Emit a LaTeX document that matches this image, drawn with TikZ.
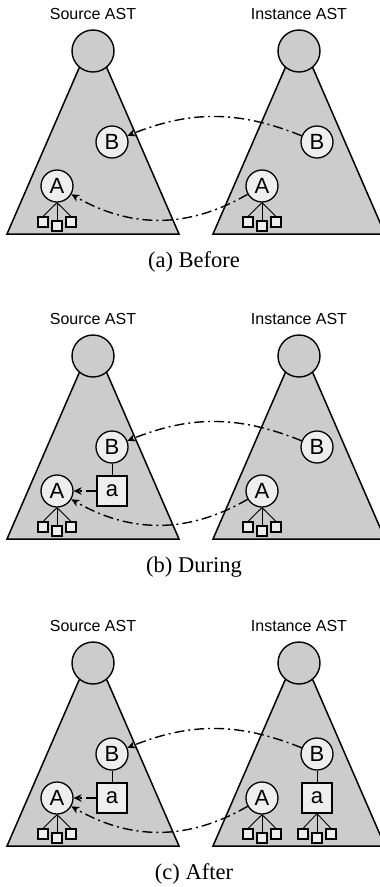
\documentclass[tikz,border=0pt]{standalone}
\usepackage{fontspec}
\setmainfont{Liberation Serif}
\setsansfont{Liberation Sans}
\usetikzlibrary{arrows.meta}

\definecolor{treegray}{HTML}{CCCCCC}
\definecolor{nodegray}{HTML}{EEEEEE}

\tikzset{
  astshape/.style={fill=treegray, draw=black, line width=1.5pt},
  rootnode/.style={circle, draw, line width=1.4pt, fill=treegray, minimum size=42pt, inner sep=0pt},
  astnode/.style={circle, draw, line width=1.3pt, fill=nodegray, minimum size=32pt, inner sep=0pt,
    font=\sffamily\fontsize{22}{22}\selectfont},
  valbox/.style={rectangle, draw, line width=1.3pt, fill=nodegray, minimum size=30pt, inner sep=0pt,
    font=\sffamily\fontsize{22}{22}\selectfont},
  leaf/.style={rectangle, draw, line width=1.1pt, fill=nodegray, minimum size=10pt, inner sep=0pt},
  childline/.style={line width=0.9pt},
  astlabel/.style={font=\sffamily\fontsize{16}{16}\selectfont},
  subcap/.style={font=\fontsize{22.5}{22.5}\selectfont, anchor=base},
  mapping/.style={line width=1.4pt, dash pattern=on 10pt off 4pt on 2pt off 4pt,
    -{Stealth[length=8pt,width=7.5pt,inset=2.5pt]}}
}

% three leaves under a node
\newcommand{\addleaves}[1]{%
  \foreach \dx/\dy [count=\k] in {-14/36,0/40,14/36}
    {\node[leaf] (#1-\k) at ([shift={(\dx,-\dy)}]#1) {};
     \draw[childline] (#1.south) -- (#1-\k.north);}}

\begin{document}
\begin{tikzpicture}[x=1pt, y=1pt]
    \useasboundingbox (0,0) rectangle (380,-887);

    % (a) Before
    \filldraw[astshape] (93,-36) -- (7,-234) -- (179,-234) -- cycle;
    \filldraw[astshape] (299,-36) -- (213,-234) -- (385,-234) -- cycle;
    \node[rootnode] (srcRoot1) at (93,-51) {};
    \node[rootnode] (insRoot1) at (299,-51) {};
    \node[astlabel] (srcLab1) at (93,-14) {Source AST};
    \node[astlabel] (insLab1) at (299,-14) {Instance AST};

    \node[astnode] (srcB1) at (112,-142) {B};
    \node[astnode] (srcA1) at (57,-186) {A};
    \node[astnode] (insB1) at (317,-142) {B};
    \node[astnode] (insA1) at (262,-186) {A};
    \addleaves{srcA1}
    \addleaves{insA1}

    \draw[mapping] (insB1) to[bend right=22] (srcB1);
    \draw[mapping] (insA1) to[bend left=30] (srcA1);
    \node[subcap] (capA) at (194,-267) {(a) Before};

    % (b) During
    \begin{scope}[yshift=-305pt]
    \filldraw[astshape] (93,-36) -- (7,-234) -- (179,-234) -- cycle;
    \filldraw[astshape] (299,-36) -- (213,-234) -- (385,-234) -- cycle;
    \node[rootnode] (srcRoot2) at (93,-51) {};
    \node[rootnode] (insRoot2) at (299,-51) {};
    \node[astlabel] (srcLab2) at (93,-14) {Source AST};
    \node[astlabel] (insLab2) at (299,-14) {Instance AST};

    \node[astnode] (srcB2) at (112,-142) {B};
    \node[valbox] (srcV2) at (112,-186) {a};
    \node[astnode] (srcA2) at (57,-186) {A};
    \node[astnode] (insB2) at (317,-142) {B};
    \node[astnode] (insA2) at (262,-186) {A};
    \draw[childline] (srcB2) -- (srcV2);
    \addleaves{srcA2}
    \addleaves{insA2}

    \draw[mapping] (insB2) to[bend right=22] (srcB2);
    \draw[mapping] (insA2) to[bend left=30] (srcA2);
    \draw[mapping] (srcV2) -- (srcA2);
    \node[subcap] (capB) at (194,-267) {(b) During};
    \end{scope}

    % (c) After
    \begin{scope}[yshift=-612pt]
    \filldraw[astshape] (93,-36) -- (7,-234) -- (179,-234) -- cycle;
    \filldraw[astshape] (299,-36) -- (213,-234) -- (385,-234) -- cycle;
    \node[rootnode] (srcRoot3) at (93,-51) {};
    \node[rootnode] (insRoot3) at (299,-51) {};
    \node[astlabel] (srcLab3) at (93,-14) {Source AST};
    \node[astlabel] (insLab3) at (299,-14) {Instance AST};

    \node[astnode] (srcB3) at (112,-142) {B};
    \node[valbox] (srcV3) at (112,-186) {a};
    \node[astnode] (srcA3) at (57,-186) {A};
    \node[astnode] (insB3) at (317,-142) {B};
    \node[valbox] (insV3) at (317,-186) {a};
    \node[astnode] (insA3) at (262,-186) {A};
    \draw[childline] (srcB3) -- (srcV3);
    \draw[childline] (insB3) -- (insV3);
    \addleaves{srcA3}
    \addleaves{insA3}
    \addleaves{insV3}

    \draw[mapping] (insB3) to[bend right=22] (srcB3);
    \draw[mapping] (insA3) to[bend left=30] (srcA3);
    \draw[mapping] (srcV3) -- (srcA3);
    \node[subcap] (capC) at (194,-267) {(c) After};
    \end{scope}
\end{tikzpicture}
\end{document}
